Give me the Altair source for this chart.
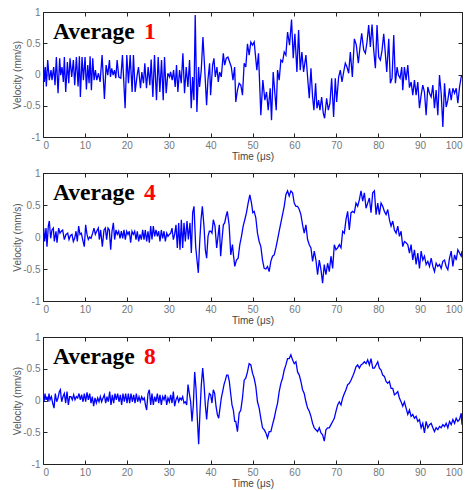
import altair as alt
import pandas as pd

# ---- data (time in microseconds, velocity in mm/s) ----
avg1 = [
    (0.08, 0.18), (0.32, -0.12), (0.56, 0.12), (0.80, -0.19), (1.12, 0.23), (1.51, -0.09), (1.91, 0.07),
    (2.15, -0.09), (2.55, 0.12), (2.87, -0.17), (3.19, 0.28), (3.59, -0.30), (3.98, 0.26), (4.22, -0.01),
    (4.54, 0.12), (4.86, -0.12), (5.10, 0.28), (5.42, -0.28), (5.82, 0.20), (6.14, -0.14), (6.45, 0.26),
    (6.85, -0.04), (7.25, 0.23), (7.57, -0.17), (7.97, 0.28), (8.37, -0.19), (8.69, 0.29), (8.92, -0.36),
    (9.32, 0.28), (9.64, -0.09), (10.04, 0.28), (10.36, -0.24), (10.68, 0.15), (11.00, -0.14), (11.24, 0.29),
    (11.55, -0.25), (11.87, 0.26), (12.19, -0.09), (12.51, 0.07), (12.83, -0.09), (13.23, 0.02), (13.63, -0.12),
    (14.10, 0.31), (14.66, -0.39), (15.06, 0.15), (15.46, -0.01), (15.86, 0.23), (16.10, -0.04), (16.41, 0.10),
    (16.73, -0.01), (17.05, 0.07), (17.37, -0.06), (17.69, 0.23), (18.09, -0.04), (18.57, -0.06), (18.96, 0.31),
    (19.60, -0.54), (20.00, 0.31), (20.40, -0.14), (20.80, 0.31), (21.27, -0.28), (21.59, 0.31), (21.99, -0.28),
    (22.47, -0.01), (22.79, 0.12), (23.27, -0.22), (23.59, 0.04), (23.98, -0.14), (24.30, 0.18), (24.70, -0.22),
    (25.10, 0.12), (25.50, -0.17), (25.82, 0.24), (26.22, -0.36), (26.61, 0.31), (27.09, -0.41), (27.49, 0.28),
    (27.89, -0.28), (28.29, 0.23), (28.69, -0.41), (29.00, 0.28), (29.40, -0.30), (29.80, 0.02), (30.20, -0.04),
    (30.44, 0.04), (30.84, -0.09), (31.16, 0.07), (31.55, -0.20), (31.87, 0.15), (32.19, -0.28), (32.59, 0.07),
    (32.99, -0.14), (33.39, 0.34), (33.78, -0.30), (34.18, 0.12), (34.58, -0.20), (34.98, 0.23), (35.38, -0.54),
    (35.70, -0.04), (36.02, -0.41), (36.33, 0.95), (36.73, -0.60), (37.13, 0.12), (37.37, -0.20), (37.77, 0.07),
    (38.17, 0.60), (38.57, 0.12), (39.04, -0.49), (39.36, -0.09), (39.76, 0.18), (40.00, -0.33), (40.48, 0.15),
    (40.80, 0.26), (41.12, -0.04), (41.51, 0.12), (41.83, -0.12), (42.15, 0.04), (42.55, -0.04), (43.03, 0.34),
    (43.35, 0.15), (43.75, 0.26), (44.14, 0.28), (44.54, 0.20), (44.94, 0.12), (45.34, -0.09), (45.74, 0.12),
    (46.01, -0.44), (46.41, -0.25), (46.81, -0.14), (47.21, -0.17), (47.61, -0.33), (48.01, 0.18), (48.40, 0.12),
    (48.80, 0.49), (49.20, 0.31), (49.60, 0.52), (50.00, 0.47), (50.40, 0.52), (51.04, 0.07), (51.43, 0.34),
    (51.99, -0.65), (52.47, -0.09), (52.95, -0.41), (53.35, -0.28), (53.75, -0.57), (54.22, -0.22), (54.54, -0.73),
    (54.94, 0.04), (55.34, -0.30), (55.66, -0.57), (55.98, 0.07), (56.37, -0.09), (56.77, 0.23), (57.17, 0.20),
    (57.57, 0.36), (57.97, 0.31), (58.37, 0.68), (58.84, 0.47), (59.32, 0.88), (59.72, 0.26), (60.12, 0.65),
    (60.60, 0.04), (61.00, 0.71), (61.39, 0.07), (61.79, 0.36), (62.19, 0.04), (62.75, 0.31), (63.15, -0.04),
    (63.55, -0.38), (63.95, 0.10), (64.34, -0.36), (64.66, -0.57), (65.06, -0.14), (65.38, -0.54), (65.78, -0.41),
    (66.10, -0.57), (66.50, -0.36), (66.89, -0.62), (67.21, -0.70), (67.69, -0.38), (68.09, -0.57), (68.49, -0.46),
    (68.89, -0.06), (69.36, -0.68), (69.76, -0.06), (70.08, -0.44), (70.56, -0.04), (70.96, 0.07), (71.36, -0.12),
    (71.76, 0.04), (72.15, 0.18), (72.55, 0.12), (72.95, 0.02), (73.35, 0.36), (73.83, -0.04), (74.31, 0.57),
    (74.78, 0.47), (75.26, 0.18), (75.66, 0.44), (76.06, 0.66), (76.54, 0.39), (76.94, 0.34), (77.33, 0.52),
    (77.73, 0.79), (78.13, 0.44), (78.53, 0.80), (78.93, 0.39), (79.33, 0.10), (79.72, 0.79), (80.12, 0.28),
    (80.52, 0.23), (80.92, 0.39), (81.32, 0.65), (81.64, 0.39), (82.04, 0.04), (82.52, 0.57), (82.91, -0.14),
    (83.31, -0.06), (83.71, 0.63), (84.11, -0.14), (84.51, 0.12), (84.83, -0.01), (85.22, -0.06), (85.62, 0.12),
    (85.86, -0.25), (86.26, 0.12), (86.66, -0.09), (87.06, 0.15), (87.46, -0.21), (87.86, -0.12), (88.25, -0.33),
    (88.65, -0.09), (89.05, -0.33), (89.45, -0.12), (89.85, -0.54), (90.25, -0.33), (90.64, -0.17), (91.04, -0.28),
    (91.44, -0.65), (91.84, -0.20), (92.24, -0.30), (92.64, -0.36), (93.04, -0.17), (93.43, -0.54), (93.83, -0.25),
    (94.23, -0.65), (94.63, -0.01), (95.03, -0.30), (95.43, -0.84), (95.83, -0.14), (96.22, -0.52), (96.62, -0.41),
    (97.02, -0.22), (97.42, -0.41), (97.82, -0.22), (98.22, -0.30), (98.62, -0.22), (99.01, -0.46), (99.41, -0.20),
    (99.81, -0.04), (100.0, -0.01),
]

avg4 = [
    (0.00, 0.06), (0.16, 0.14), (0.40, -0.07), (0.72, 0.14), (0.95, -0.15), (1.27, 0.17), (1.51, 0.25),
    (1.83, -0.02), (2.15, 0.11), (2.47, 0.14), (2.70, -0.07), (3.10, 0.09), (3.34, -0.09), (3.74, 0.14),
    (4.06, 0.06), (4.38, 0.09), (4.69, 0.11), (5.09, -0.04), (5.49, 0.04), (5.89, 0.06), (6.21, -0.04),
    (6.52, 0.02), (6.92, 0.04), (7.24, -0.07), (7.56, -0.02), (7.88, 0.09), (8.19, -0.07), (8.51, 0.17),
    (8.83, 0.04), (9.15, 0.06), (9.47, -0.04), (9.86, -0.15), (10.18, 0.19), (10.50, 0.04), (10.82, -0.04),
    (11.14, 0.00), (11.46, -0.02), (11.85, 0.06), (12.17, 0.14), (12.49, 0.04), (12.81, 0.09), (13.21, 0.14),
    (13.44, -0.04), (13.76, 0.11), (14.16, -0.15), (14.56, 0.11), (14.88, 0.14), (15.19, -0.04), (15.51, 0.14),
    (15.83, 0.11), (16.15, -0.20), (16.47, 0.09), (16.79, 0.22), (17.10, -0.04), (17.42, 0.11), (17.74, 0.04),
    (18.06, 0.09), (18.38, -0.02), (18.70, 0.09), (19.01, -0.02), (19.33, 0.11), (19.65, -0.04), (19.97, 0.09),
    (20.29, 0.04), (20.60, 0.09), (20.92, -0.09), (21.24, 0.09), (21.56, 0.04), (21.88, 0.09), (22.20, -0.04),
    (22.51, 0.09), (22.83, -0.07), (23.15, 0.04), (23.47, -0.04), (23.79, 0.11), (24.11, -0.04), (24.42, 0.11),
    (24.74, -0.07), (25.06, 0.09), (25.38, -0.09), (25.70, 0.17), (26.01, -0.04), (26.33, 0.17), (26.65, 0.01),
    (26.97, 0.11), (27.29, 0.01), (27.61, 0.09), (27.92, -0.07), (28.24, 0.11), (28.56, -0.02), (28.88, 0.09),
    (29.20, -0.07), (29.52, 0.06), (29.83, 0.01), (30.15, 0.04), (30.47, 0.06), (30.79, 0.14), (31.11, -0.04),
    (31.42, 0.04), (31.74, 0.19), (32.06, -0.17), (32.38, 0.22), (32.70, -0.20), (33.02, 0.27), (33.33, -0.17),
    (33.65, 0.22), (33.97, -0.07), (34.37, 0.25), (34.69, -0.04), (35.08, 0.22), (35.40, -0.25), (35.72, 0.38),
    (36.04, 0.48), (36.44, -0.15), (36.75, -0.36), (37.07, -0.56), (37.39, -0.09), (37.71, 0.27), (38.03, 0.48),
    (38.42, 0.17), (38.74, -0.20), (39.06, -0.33), (39.38, 0.01), (39.70, 0.09), (40.02, 0.09), (40.33, 0.06),
    (40.65, 0.27), (41.05, 0.17), (41.45, -0.17), (41.77, 0.01), (42.08, 0.19), (42.40, -0.30), (42.72, -0.04),
    (43.04, 0.19), (43.36, 0.22), (43.67, 0.32), (43.99, 0.40), (44.42, 0.19), (44.82, -0.28), (45.22, -0.12),
    (45.45, -0.28), (45.77, -0.46), (46.17, -0.36), (46.57, -0.33), (46.97, -0.12), (47.37, 0.01), (47.77, 0.17),
    (48.16, 0.27), (48.56, 0.38), (48.96, 0.53), (49.36, 0.66), (49.76, 0.53), (50.08, 0.38), (50.40, 0.40),
    (50.79, 0.30), (51.19, 0.06), (51.59, -0.07), (51.99, -0.15), (52.39, -0.36), (52.79, -0.49), (53.19, -0.50),
    (53.58, -0.46), (53.98, -0.54), (54.38, -0.38), (54.78, -0.30), (55.18, -0.28), (55.58, -0.17), (55.98, -0.04),
    (56.37, 0.09), (56.77, 0.22), (57.17, 0.35), (57.57, 0.48), (57.97, 0.66), (58.37, 0.72), (58.76, 0.64),
    (59.16, 0.72), (59.56, 0.69), (59.96, 0.53), (60.36, 0.48), (60.76, 0.48), (61.16, 0.43), (61.55, 0.35),
    (61.95, 0.19), (62.35, 0.06), (62.75, 0.19), (63.15, -0.04), (63.55, -0.12), (63.95, -0.17), (64.34, -0.38),
    (64.74, -0.22), (65.14, -0.36), (65.54, -0.59), (65.94, -0.36), (66.34, -0.51), (66.73, -0.72), (67.13, -0.43),
    (67.53, -0.59), (67.93, -0.41), (68.33, -0.54), (68.73, -0.30), (69.13, -0.49), (69.52, -0.12), (69.92, -0.20),
    (70.32, -0.17), (70.72, -0.12), (71.12, -0.17), (71.52, 0.09), (71.92, 0.06), (72.31, 0.27), (72.71, 0.40),
    (73.11, 0.11), (73.51, 0.38), (73.91, 0.40), (74.31, 0.38), (74.70, 0.53), (75.10, 0.48), (75.50, 0.58),
    (75.90, 0.72), (76.30, 0.56), (76.70, 0.69), (77.10, 0.45), (77.49, 0.53), (77.89, 0.61), (78.29, 0.38),
    (78.69, 0.69), (79.09, 0.72), (79.49, 0.35), (79.89, 0.53), (80.28, 0.35), (80.68, 0.53), (81.08, 0.48),
    (81.48, 0.40), (81.88, 0.35), (82.28, 0.43), (82.67, 0.27), (83.07, 0.17), (83.47, 0.25), (83.87, 0.11),
    (84.27, 0.06), (84.67, 0.17), (85.06, 0.01), (85.46, 0.09), (85.86, -0.15), (86.26, -0.07), (86.66, -0.09),
    (87.06, -0.12), (87.46, -0.25), (87.85, -0.12), (88.25, -0.36), (88.65, -0.20), (89.05, -0.43), (89.45, -0.25),
    (89.85, -0.49), (90.25, -0.22), (90.64, -0.36), (91.04, -0.30), (91.44, -0.43), (91.84, -0.38), (92.24, -0.46),
    (92.64, -0.33), (93.04, -0.46), (93.43, -0.54), (93.83, -0.41), (94.23, -0.46), (94.63, -0.43), (95.03, -0.49),
    (95.43, -0.38), (95.83, -0.36), (96.22, -0.46), (96.62, -0.51), (97.02, -0.33), (97.42, -0.22), (97.82, -0.46),
    (98.22, -0.28), (98.61, -0.36), (99.01, -0.20), (99.41, -0.25), (99.81, -0.30), (100.0, -0.22),
]

avg8 = [
    (0.00, 0.06), (0.24, -0.02), (0.48, 0.11), (0.72, 0.01), (0.95, 0.06), (1.19, -0.02), (1.43, 0.11),
    (1.67, 0.01), (1.99, 0.06), (2.31, -0.04), (2.63, -0.12), (2.94, 0.11), (3.26, -0.02), (3.58, 0.04),
    (3.90, 0.14), (4.14, 0.17), (4.46, -0.02), (4.77, 0.06), (5.09, 0.11), (5.41, -0.04), (5.73, 0.14),
    (6.05, -0.07), (6.36, 0.06), (6.68, 0.06), (7.00, 0.01), (7.32, 0.09), (7.64, 0.01), (7.96, 0.06),
    (8.27, 0.04), (8.59, 0.11), (8.91, 0.01), (9.23, 0.09), (9.55, -0.02), (9.86, 0.11), (10.18, -0.02),
    (10.50, 0.13), (10.82, 0.01), (11.14, 0.11), (11.46, -0.04), (11.77, 0.06), (12.09, -0.09), (12.41, 0.04),
    (12.73, -0.04), (13.05, 0.04), (13.37, -0.02), (13.68, 0.06), (14.00, -0.02), (14.32, 0.04), (14.64, 0.09),
    (14.96, -0.04), (15.27, 0.06), (15.59, -0.02), (15.91, 0.14), (16.23, -0.07), (16.55, 0.09), (16.87, -0.04),
    (17.18, 0.11), (17.50, 0.01), (17.82, 0.11), (18.14, -0.02), (18.46, 0.09), (18.77, -0.07), (19.09, 0.11),
    (19.41, -0.02), (19.73, 0.11), (20.05, -0.04), (20.37, 0.11), (20.68, -0.04), (21.00, 0.11), (21.32, -0.02),
    (21.64, 0.09), (21.96, -0.04), (22.27, 0.11), (22.59, -0.02), (22.91, 0.06), (23.23, -0.02), (23.55, 0.06),
    (23.87, 0.01), (24.18, 0.04), (24.50, -0.09), (24.74, -0.15), (25.06, 0.11), (25.38, 0.17), (25.70, -0.07),
    (26.01, 0.11), (26.33, -0.07), (26.65, 0.06), (26.97, -0.02), (27.29, 0.11), (27.61, -0.04), (27.92, 0.09),
    (28.24, -0.07), (28.56, 0.06), (28.88, 0.01), (29.20, 0.09), (29.52, -0.07), (29.83, 0.04), (30.15, -0.02),
    (30.47, 0.09), (30.79, -0.04), (31.11, 0.14), (31.42, -0.09), (31.74, 0.01), (32.06, 0.06), (32.38, -0.02),
    (32.70, 0.04), (33.02, 0.01), (33.33, 0.06), (33.65, -0.04), (33.97, -0.02), (34.29, -0.07), (34.61, 0.25),
    (34.92, 0.11), (35.24, -0.02), (35.56, -0.33), (35.88, -0.07), (36.20, 0.45), (36.52, 0.19), (36.83, -0.28),
    (37.15, -0.69), (37.47, -0.17), (37.79, 0.25), (38.11, 0.51), (38.42, 0.27), (38.74, -0.07), (39.06, -0.30),
    (39.38, -0.02), (39.70, 0.11), (40.02, 0.09), (40.33, -0.04), (40.65, 0.17), (40.97, 0.11), (41.29, -0.09),
    (41.61, -0.22), (41.93, -0.28), (42.24, -0.12), (42.56, 0.04), (42.88, 0.14), (43.20, 0.25), (43.52, 0.32),
    (43.83, 0.40), (44.15, 0.40), (44.47, 0.30), (44.79, 0.11), (45.11, -0.07), (45.43, -0.15), (45.75, -0.33),
    (46.01, -0.33), (46.41, -0.49), (46.81, -0.20), (47.21, -0.15), (47.61, 0.04), (48.01, 0.32), (48.40, 0.35),
    (48.80, 0.45), (49.20, 0.58), (49.60, 0.56), (50.00, 0.43), (50.40, 0.35), (50.79, 0.22), (51.19, -0.02),
    (51.59, -0.12), (51.99, -0.28), (52.39, -0.43), (52.79, -0.46), (53.19, -0.51), (53.58, -0.59), (53.98, -0.49),
    (54.38, -0.49), (54.78, -0.38), (55.18, -0.28), (55.58, -0.15), (55.98, -0.04), (56.37, 0.14), (56.77, 0.27),
    (57.17, 0.35), (57.57, 0.48), (57.97, 0.56), (58.37, 0.66), (58.76, 0.66), (59.16, 0.72), (59.56, 0.64),
    (59.96, 0.58), (60.36, 0.61), (60.76, 0.45), (61.16, 0.40), (61.55, 0.30), (61.95, 0.17), (62.35, 0.11),
    (62.75, -0.02), (63.15, -0.12), (63.55, -0.17), (63.95, -0.25), (64.34, -0.36), (64.74, -0.43), (65.14, -0.46),
    (65.54, -0.49), (65.94, -0.43), (66.34, -0.51), (66.73, -0.54), (67.13, -0.64), (67.53, -0.46), (67.93, -0.43),
    (68.33, -0.43), (68.73, -0.38), (69.13, -0.33), (69.52, -0.28), (69.92, -0.17), (70.32, -0.07), (70.72, -0.02),
    (71.12, -0.07), (71.52, 0.04), (71.92, 0.11), (72.31, 0.17), (72.71, 0.25), (73.11, 0.27), (73.51, 0.32),
    (73.91, 0.38), (74.31, 0.45), (74.70, 0.53), (75.10, 0.56), (75.50, 0.51), (75.90, 0.56), (76.30, 0.58),
    (76.70, 0.61), (77.10, 0.58), (77.49, 0.64), (77.89, 0.56), (78.29, 0.66), (78.69, 0.51), (79.09, 0.51),
    (79.49, 0.56), (79.89, 0.61), (80.28, 0.51), (80.68, 0.48), (81.08, 0.40), (81.48, 0.38), (81.88, 0.30),
    (82.28, 0.27), (82.67, 0.30), (83.07, 0.19), (83.47, 0.19), (83.87, 0.09), (84.27, 0.11), (84.67, 0.14),
    (85.06, 0.04), (85.46, -0.02), (85.86, -0.09), (86.26, -0.02), (86.66, -0.12), (87.06, -0.22), (87.46, -0.15),
    (87.85, -0.25), (88.25, -0.22), (88.65, -0.28), (89.05, -0.25), (89.45, -0.33), (89.85, -0.30), (90.25, -0.43),
    (90.64, -0.36), (91.04, -0.51), (91.44, -0.33), (91.84, -0.43), (92.24, -0.38), (92.64, -0.36), (93.04, -0.43),
    (93.43, -0.49), (93.83, -0.43), (94.23, -0.46), (94.63, -0.41), (95.03, -0.43), (95.43, -0.38), (95.83, -0.41),
    (96.22, -0.36), (96.62, -0.43), (97.02, -0.33), (97.42, -0.38), (97.82, -0.30), (98.22, -0.36), (98.61, -0.28),
    (99.01, -0.33), (99.41, -0.30), (99.81, -0.20), (100.0, -0.38),
]

panel_words = ["Average", "Average", "Average"]
panel_numbers = ["1", "4", "8"]
series = [avg1, avg4, avg8]
panel_heights = [125, 128, 127]

x_ticks = [0, 10, 20, 30, 40, 50, 60, 70, 80, 90, 100]
y_ticks = [-1, -0.5, 0, 0.5, 1]

W = 419
LABEL_FONT = "Liberation Sans"


def panel(points, word, number, h):
    df = pd.DataFrame(points, columns=["t", "v"])
    xs = alt.Scale(domain=[0, 100], nice=False, zero=False)
    ys = alt.Scale(domain=[-1, 1], nice=False, zero=False)

    line = alt.Chart(df).mark_line(color="#0000ff", strokeWidth=1.3, clip=True).encode(
        x=alt.X("t:Q", scale=xs, axis=alt.Axis(
            values=x_ticks, title="Time (μs)", orient="bottom", domain=False, grid=False,
            tickSize=4, offset=-4, tickColor="#222", labelPadding=3, labelFont=LABEL_FONT,
            labelFontSize=10, labelColor="#777", titleFont=LABEL_FONT, titleFontSize=10,
            titleFontWeight="normal", titleColor="#444", titlePadding=1.5)),
        y=alt.Y("v:Q", scale=ys, axis=alt.Axis(
            values=y_ticks, title="Velocity (mm/s)", orient="left", domain=False, grid=False,
            tickSize=4, offset=-4, tickColor="#222", labelPadding=3, labelFont=LABEL_FONT,
            labelFontSize=10, labelColor="#777", titleFont=LABEL_FONT, titleFontSize=10,
            titleFontWeight="normal", titleColor="#555", titlePadding=0, format="~g",
            labelExpr="replace(datum.label, '\u2212', '-')")),
    )

    frame = alt.Chart(df).mark_line(opacity=0).encode(
        x=alt.X("t:Q", scale=xs, axis=alt.Axis(
            values=x_ticks, title=None, orient="top", labels=False, domain=False, grid=False,
            tickSize=4, offset=-4, tickColor="#222")),
        y=alt.Y("v:Q", scale=ys, axis=alt.Axis(
            values=y_ticks, title=None, orient="right", labels=False, domain=False, grid=False,
            tickSize=4, offset=-4, tickColor="#222")),
    )

    lab = pd.DataFrame({"word": [word], "num": [number]})
    word_txt = alt.Chart(lab).mark_text(
        align="left", baseline="alphabetic", font="Liberation Serif", fontWeight="bold",
        fontSize=23.5, color="#000000").encode(x=alt.value(10), y=alt.value(27), text="word:N")
    num_txt = alt.Chart(lab).mark_text(
        align="left", baseline="alphabetic", font="Liberation Serif", fontWeight="bold",
        fontSize=23.5, color="#ff0000").encode(x=alt.value(101), y=alt.value(27), text="num:N")

    return alt.layer(frame, line, word_txt, num_txt).resolve_axis(
        x="independent", y="independent").properties(width=W, height=h)


chart = alt.vconcat(
    *[panel(s, w, n, h) for s, w, n, h in zip(series, panel_words, panel_numbers, panel_heights)],
    spacing=5
).properties(
    padding={"left": 12, "top": 6, "right": 0, "bottom": 0}, background="white"
).configure_view(stroke="#222", strokeWidth=1)

chart.save("out.html", embed_options={"renderer": "svg", "actions": False})
